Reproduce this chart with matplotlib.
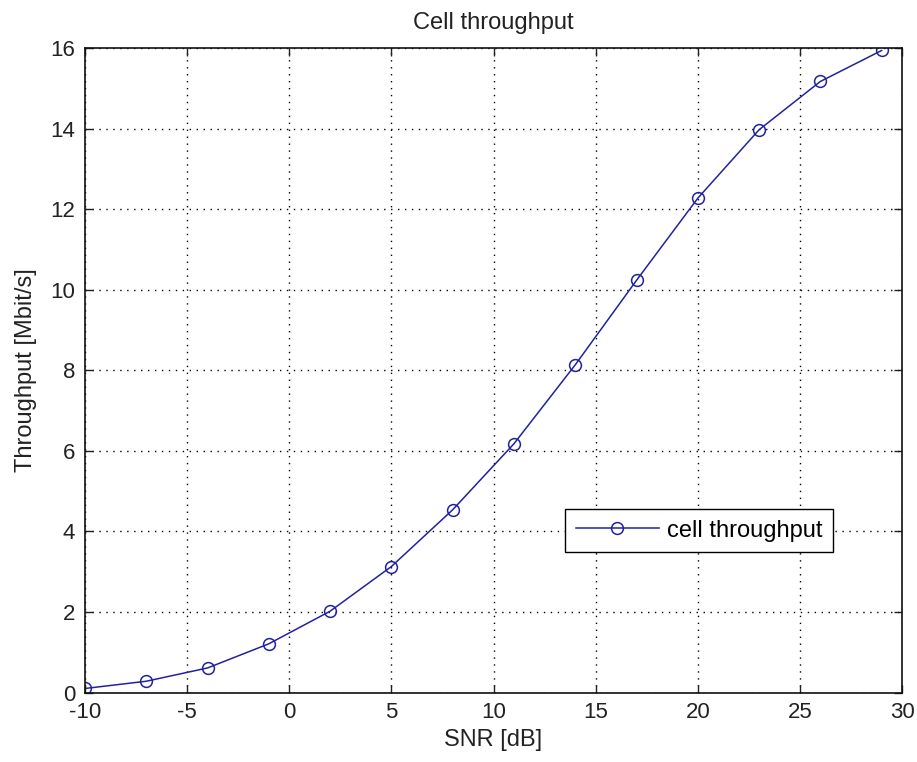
import matplotlib
matplotlib.use('Agg')
import matplotlib.pyplot as plt

snr_db = [-10, -7, -4, -1, 2, 5, 8, 11, 14, 17, 20, 23, 26, 29]
throughput = [0.10, 0.28, 0.61, 1.21, 2.02, 3.13, 4.54, 6.18, 8.14, 10.24, 12.28, 13.98, 15.18, 15.95]

x_ticks = [-10, -5, 0, 5, 10, 15, 20, 25, 30]
y_ticks = [0, 2, 4, 6, 8, 10, 12, 14, 16]

plt.rcParams['font.family'] = ['Liberation Sans', 'DejaVu Sans']
plt.rcParams['axes.unicode_minus'] = False

fig = plt.figure(figsize=(9.17, 7.62), dpi=100)
ax = fig.add_axes([0.0927, 0.0912, 0.891, 0.8452])

line_color = '#22229e'
ax.plot(snr_db, throughput, color=line_color, linewidth=1.1, marker='o',
        markersize=8.5, markerfacecolor='none', markeredgecolor=line_color,
        markeredgewidth=1.1, label='cell throughput')

ax.set_xlim(-10, 30)
ax.set_ylim(0, 16)
ax.set_xticks(x_ticks)
ax.set_yticks(y_ticks)
ax.tick_params(direction='in', length=6, width=1.0, top=True, right=True,
               labelsize=16, colors='#222222')
ax.tick_params(axis='x', pad=7)
ax.tick_params(axis='y', pad=7)

ax.grid(True, linestyle=(0, (1, 4)), color='black', linewidth=1.0)
for s in ax.spines.values():
    s.set_linewidth(1.2)
    s.set_color('#111111')

ax.set_title('Cell throughput', fontsize=17, pad=14, color='#222222')
ax.set_xlabel('SNR [dB]', fontsize=17, labelpad=4, color='#222222')
ax.set_ylabel('Throughput [Mbit/s]', fontsize=17, labelpad=10, color='#222222')

leg = ax.legend(loc='upper right', bbox_to_anchor=(0.9155, 0.285),
                fontsize=17, fancybox=False, framealpha=1, edgecolor='black',
                borderpad=0.45, handlelength=3.5, handletextpad=0.35,
                borderaxespad=0)
leg.get_frame().set_linewidth(1.0)

plt.savefig('out.png', dpi=100)
plt.close()
